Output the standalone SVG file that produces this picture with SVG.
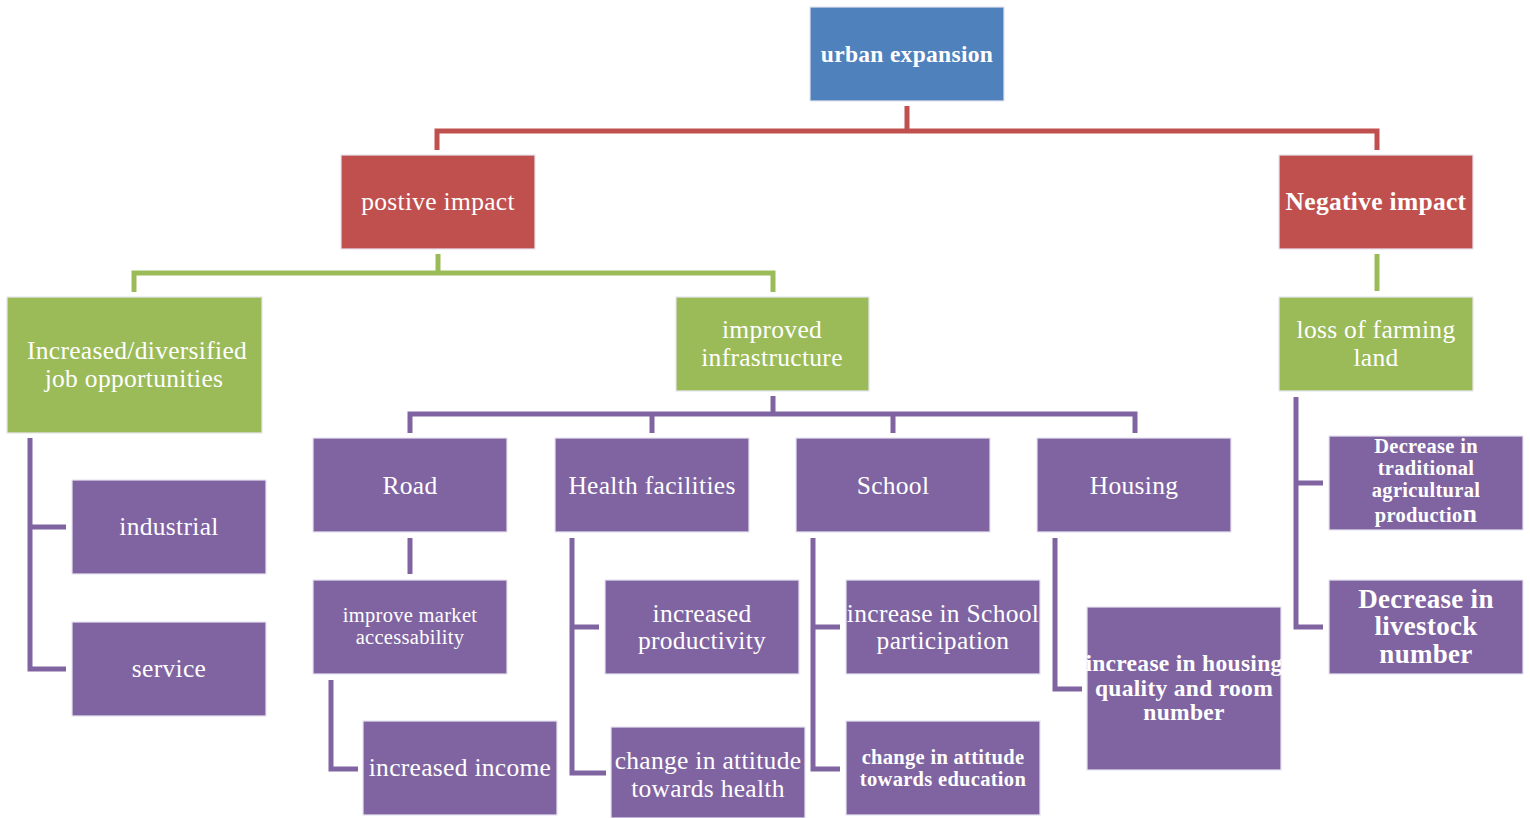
<svg xmlns="http://www.w3.org/2000/svg" width="1530" height="818" viewBox="0 0 1530 818">
<style>
.box{stroke:#e8e4f0;stroke-width:1.2}
.b{fill:#4F81BD}.r{fill:#C0504D}.g{fill:#9BBB59}.p{fill:#8064A2}
text{font-family:"Liberation Serif","Times New Roman",serif;fill:#fff;text-anchor:middle}
.t24{font-size:25.5px;letter-spacing:0.3px}.t19{font-size:20.5px;letter-spacing:0.3px}
.bold{font-weight:bold}
.cr{stroke:#C0504D}.cg{stroke:#9BBB59}.cp{stroke:#8064A2}
#connectors path{fill:none;stroke-width:5;stroke-linejoin:miter}
</style>
<rect width="1530" height="818" fill="#fff"/>
<g id="connectors">
<path class="cr" d="M907 106V131M437 150V131H1377V150"/>
<path class="cg" d="M438 254V273M134 292V273H773V292"/>
<path class="cg" d="M1377 254V291"/>
<path class="cp" d="M773 396V414M410 433V414H1135V433M652 414V433M893 414V433"/>
<path class="cp" d="M30 438V669H66M30 527H66"/>
<path class="cp" d="M410 538V574"/>
<path class="cp" d="M331 680V769H358"/>
<path class="cp" d="M572 538V773H606M572 627H599"/>
<path class="cp" d="M813 538V769H840M813 627H840"/>
<path class="cp" d="M1055 538V689H1082"/>
<path class="cp" d="M1296 397V627H1323M1296 483H1323"/>
</g>
<g id="urban"><rect class="box b" x="810" y="7" width="194" height="94"/><text x="907" y="62" class="bold" font-size="23.5" letter-spacing="0.3">urban expansion</text></g>
<g id="positive"><rect class="box r" x="341" y="155" width="194" height="94"/><text x="438" y="210" class="t24">postive impact</text></g>
<g id="negative"><rect class="box r" x="1279" y="155" width="194" height="94"/><text x="1376" y="210" class="t24 bold">Negative impact</text></g>
<g id="jobs"><rect class="box g" x="7" y="297" width="255" height="136"/><text x="137" y="359" class="t24">Increased/diversified</text><text x="134" y="387" class="t24">job opportunities</text></g>
<g id="infra"><rect class="box g" x="676" y="297" width="193" height="94"/><text x="772" y="338" class="t24">improved</text><text x="772" y="366" class="t24">infrastructure</text></g>
<g id="farming"><rect class="box g" x="1279" y="297" width="194" height="94"/><text x="1376" y="338" class="t24">loss of farming</text><text x="1376" y="366" class="t24">land</text></g>
<g id="road"><rect class="box p" x="313" y="438" width="194" height="94"/><text x="410" y="494" class="t24">Road</text></g>
<g id="health"><rect class="box p" x="555" y="438" width="194" height="94"/><text x="652" y="494" class="t24">Health facilities</text></g>
<g id="school"><rect class="box p" x="796" y="438" width="194" height="94"/><text x="893" y="494" class="t24">School</text></g>
<g id="housing"><rect class="box p" x="1037" y="438" width="194" height="94"/><text x="1134" y="494" class="t24">Housing</text></g>
<g id="industrial"><rect class="box p" x="72" y="480" width="194" height="94"/><text x="169" y="535" class="t24">industrial</text></g>
<g id="service"><rect class="box p" x="72" y="622" width="194" height="94"/><text x="169" y="677" class="t24">service</text></g>
<g id="market"><rect class="box p" x="313" y="580" width="194" height="94"/><text x="410" y="622" class="t19">improve market</text><text x="410" y="644" class="t19">accessability</text></g>
<g id="income"><rect class="box p" x="363" y="721" width="194" height="94"/><text x="460" y="776" class="t24">increased income</text></g>
<g id="productivity"><rect class="box p" x="605" y="580" width="194" height="94"/><text x="702" y="622" class="t24">increased</text><text x="702" y="649" class="t24">productivity</text></g>
<g id="attHealth"><rect class="box p" x="611" y="727" width="194" height="91"/><text x="708" y="769" class="t24">change in attitude</text><text x="708" y="797" class="t24">towards health</text></g>
<g id="schoolPart"><rect class="box p" x="846" y="580" width="194" height="94"/><text x="943" y="622" class="t24">increase in School</text><text x="943" y="649" class="t24">participation</text></g>
<g id="attEdu"><rect class="box p" x="846" y="721" width="194" height="94"/><text x="943" y="764" class="t19 bold">change in attitude</text><text x="943" y="786" class="t19 bold">towards education</text></g>
<g id="housingQ"><rect class="box p" x="1087" y="607" width="194" height="163"/><text x="1184" y="671" class="bold" font-size="23.5" letter-spacing="0.3">increase in housing</text><text x="1184" y="696" class="bold" font-size="23.5" letter-spacing="0.3">quality and room</text><text x="1184" y="720" class="bold" font-size="23.5" letter-spacing="0.3">number</text></g>
<g id="tradAg"><rect class="box p" x="1329" y="436" width="194" height="94"/><text x="1426" y="453" class="t19 bold">Decrease in</text><text x="1426" y="475" class="t19 bold">traditional</text><text x="1426" y="497" class="t19 bold">agricultural</text><text x="1426" y="522" class="t19 bold">productio<tspan font-size="26">n</tspan></text></g>
<g id="livestock"><rect class="box p" x="1329" y="580" width="194" height="94"/><text x="1426" y="608" class="bold" font-size="27" letter-spacing="0.3">Decrease in</text><text x="1426" y="635" class="bold" font-size="27" letter-spacing="0.3">livestock</text><text x="1426" y="663" class="bold" font-size="27" letter-spacing="0.3">number</text></g>
</svg>
